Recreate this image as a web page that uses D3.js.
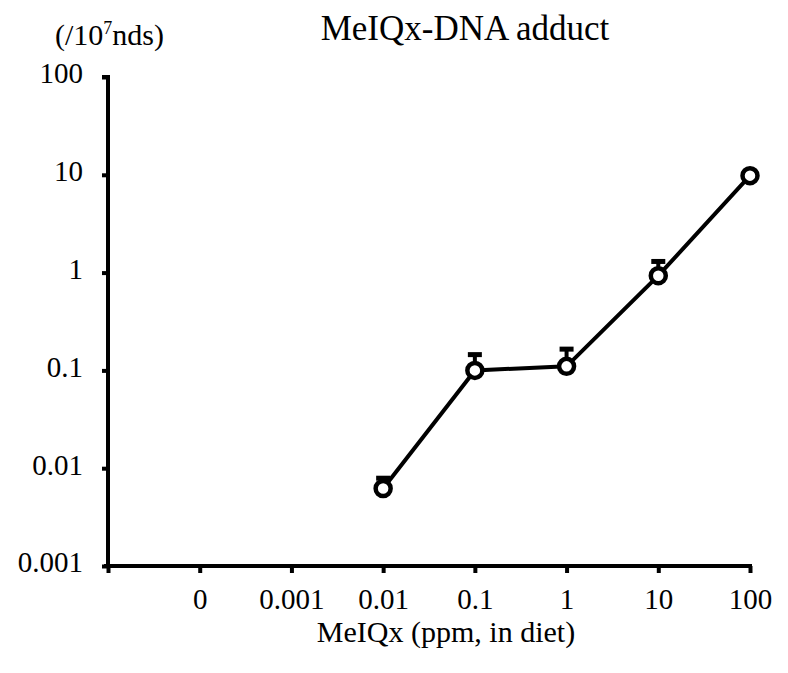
<!DOCTYPE html>
<html>
<head>
<meta charset="utf-8">
<script src="https://cdn.jsdelivr.net/npm/d3@7"></script>
<style>
body { margin: 0; background: #fff; }
text { font-family: "Liberation Serif", "Times New Roman", serif; fill: #000; }
</style>
</head>
<body>
<svg id="chart" width="788" height="673"></svg>
<script>
// x categories (first slot is the empty origin position)
var categories = ["", "0", "0.001", "0.01", "0.1", "1", "10", "100"];
// measured adduct levels (/10^7 nds)
var doses  = ["0.01", "0.1", "1", "10", "100"];
var values = [0.0062, 0.1, 0.11, 0.93, 9.8];
var errUp  = [0.0079, 0.145, 0.165, 1.3, null];
var yTicks = [0.001, 0.01, 0.1, 1, 10, 100];

var svg = d3.select("#chart");
var margin = {top: 77, left: 108};
var width = 642, height = 489;

var g = svg.append("g").attr("transform", "translate(" + margin.left + "," + margin.top + ")");

var x = d3.scalePoint().domain(categories).range([0, width]);
var y = d3.scaleLog().domain([0.001, 100]).range([height, 0]);

// y axis
var yAxis = g.append("g")
  .call(d3.axisLeft(y).tickValues(yTicks).tickSize(6).tickPadding(19)
        .tickFormat(function (d) { return d >= 1 ? d3.format("d")(d) : d3.format("")(d); }));
yAxis.select(".domain").attr("stroke-width", 4).attr("d", "M-6,0H0V" + height);
yAxis.selectAll(".tick line").attr("stroke-width", 4);
yAxis.selectAll(".tick text").style("font-size", "29px").attr("dy", "0.2em");

// x axis
var xAxis = g.append("g").attr("transform", "translate(0," + height + ")")
  .call(d3.axisBottom(x).tickSize(7).tickPadding(15));
xAxis.select(".domain").attr("stroke-width", 4).attr("d", "M-4,0H" + (width + 2));
xAxis.selectAll(".tick line").attr("stroke-width", 4);
xAxis.selectAll(".tick text").style("font-size", "29px");

var pts = doses.map(function (d, i) { return {dose: d, v: values[i], e: errUp[i]}; });

// error bars (upper only)
var eb = g.append("g").selectAll("g").data(pts.filter(function (d) { return d.e; })).enter().append("g");
eb.append("line")
  .attr("x1", function (d) { return x(d.dose); }).attr("x2", function (d) { return x(d.dose); })
  .attr("y1", function (d) { return y(d.v); }).attr("y2", function (d) { return y(d.e); })
  .attr("stroke", "#000").attr("stroke-width", 4);
eb.append("line")
  .attr("x1", function (d) { return x(d.dose) - 7; }).attr("x2", function (d) { return x(d.dose) + 7; })
  .attr("y1", function (d) { return y(d.e); }).attr("y2", function (d) { return y(d.e); })
  .attr("stroke", "#000").attr("stroke-width", 5);

// line
g.append("path").datum(pts)
  .attr("fill", "none").attr("stroke", "#000").attr("stroke-width", 4)
  .attr("d", d3.line().x(function (d) { return x(d.dose); }).y(function (d) { return y(d.v); }));

// markers
g.append("g").selectAll("circle").data(pts).enter().append("circle")
  .attr("cx", function (d) { return x(d.dose); })
  .attr("cy", function (d) { return y(d.v); })
  .attr("r", 7.5).attr("fill", "#fff").attr("stroke", "#000").attr("stroke-width", 4.5);

// titles
svg.append("text").attr("x", 465).attr("y", 40).attr("text-anchor", "middle")
  .style("font-size", "35px").text("MeIQx-DNA adduct");
var unit = svg.append("text").attr("x", 55).attr("y", 45).style("font-size", "30px");
unit.append("tspan").text("(/10");
unit.append("tspan").attr("dy", -11).style("font-size", "18px").text("7");
unit.append("tspan").attr("dy", 11).text("nds)");
svg.append("text").attr("x", 446).attr("y", 642).attr("text-anchor", "middle")
  .style("font-size", "30px").text("MeIQx (ppm, in diet)");
</script>
</body>
</html>
